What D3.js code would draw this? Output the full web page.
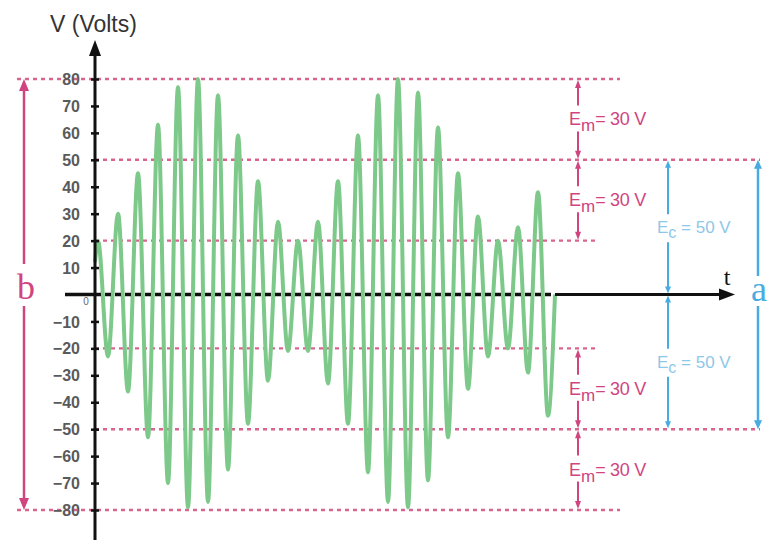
<!DOCTYPE html>
<html><head><meta charset="utf-8">
<script src="https://cdn.jsdelivr.net/npm/d3@7"></script>
<style>body{margin:0;background:#fff}svg{display:block}</style>
</head><body><svg id="c" width="773" height="545"></svg>
<script>
// ---- data ----
const yTicks = [80,70,60,50,40,30,20,10,-10,-20,-30,-40,-50,-60,-70,-80];
const guideLevels = [80,50,20,-20,-50,-80];
const carrierAmp = 50;      // Ec
const modAmp = 30;          // Em
// wave: start point, successive extrema (carrier half-periods apart), end point
const waveStart = [0, 12];
const firstExtremumT = 0.3;
const extrema = [20,-23,30,-36,45,-53,63,-70,77,-79,80,-77,74,-65,59,-48,42,-32,27,-21,
                 20,-21,27,-33,42,-48,59,-66,74,-77,80,-79,75,-69,62,-53,45,-35,29,-23,
                 20,-20,25,-29,38,-45];
const waveEnd = [46, 0];

// ---- scales ----
const svg = d3.select("#c");
svg.append("rect").attr("width",773).attr("height",545).attr("fill","#fff");
const x = d3.scaleLinear().domain([0,64]).range([95,735]);
const y = d3.scaleLinear().domain([-80,80]).range([510,79]);

const PINK = "#d0457f", PINK_DASH = "#d9658f", BLUE = "#48ace0", BLUE_TXT = "#8ec8e8";

function head(g, px, py, dir, color, w, l){
  let p;
  if(dir==="up") p=[[px,py],[px-w,py+l],[px+w,py+l]];
  else if(dir==="down") p=[[px,py],[px-w,py-l],[px+w,py-l]];
  else p=[[px,py],[px-l,py-w],[px-l,py+w]];
  g.append("path").attr("d","M"+p.map(d=>d.join(",")).join("L")+"Z").attr("fill",color);
}

// ---- guide lines ----
const guides = svg.append("g");
guideLevels.forEach(v=>{
  const full = Math.abs(v)===80;
  const mid = Math.abs(v)===50;
  const x1 = full ? 17 : 95;
  const x2 = full ? 620 : (mid ? 760 : 598);
  guides.append("line").attr("x1",x1).attr("x2",x2).attr("y1",y(v)).attr("y2",y(v))
    .attr("stroke",PINK_DASH).attr("stroke-width",2.4).attr("stroke-dasharray","4,4");
});

// ---- wave ----
const pts = [waveStart].concat(extrema.map((v,i)=>[firstExtremumT+i, v])).concat([waveEnd]);
svg.append("path").datum(pts)
  .attr("d", d3.line().x(d=>x(d[0])).y(d=>y(d[1])).curve(d3.curveMonotoneX))
  .attr("fill","none").attr("stroke","#7cc98a").attr("stroke-width",4).attr("stroke-linejoin","round");

// ---- axes ----
const ax = svg.append("g");
const y0 = y(0);
ax.append("line").attr("x1",65).attr("x2",x(0)).attr("y1",y0).attr("y2",y0).attr("stroke","#111").attr("stroke-width",3.5);
ax.append("line").attr("x1",x(0)).attr("x2",x(waveEnd[0])).attr("y1",y0).attr("y2",y0)
  .attr("stroke","#111").attr("stroke-width",3.5).attr("stroke-dasharray","6,4");
ax.append("line").attr("x1",x(waveEnd[0])).attr("x2",722).attr("y1",y0).attr("y2",y0).attr("stroke","#111").attr("stroke-width",3);
head(ax, x(64), y0, "right", "#111", 6, 16);
ax.append("line").attr("x1",x(0)).attr("x2",x(0)).attr("y1",54).attr("y2",540).attr("stroke","#111").attr("stroke-width",3);
head(ax, x(0), 40, "up", "#111", 6, 16);

const yAxis = d3.axisLeft(y).tickValues(yTicks).tickSize(0).tickPadding(15);
const yg = svg.append("g").attr("transform",`translate(${x(0)},0)`).call(yAxis);
yg.select(".domain").remove();
yg.selectAll(".tick line").remove();
yg.selectAll(".tick").append("line").attr("x1",-4).attr("x2",4).attr("stroke","#111").attr("stroke-width",2.5);
yg.selectAll(".tick text").attr("font-family","Liberation Sans, Arial, sans-serif")
  .attr("font-size",16).attr("font-weight","bold").attr("fill","#5a5a5a").attr("dy","0.35em");

svg.append("text").attr("x",86).attr("y",305).attr("text-anchor","middle")
  .attr("font-family","Liberation Sans, Arial, sans-serif").attr("font-size",10).attr("fill","#666").text("0");

svg.append("text").attr("x",50).attr("y",32).attr("font-family","Liberation Sans, Arial, sans-serif")
  .attr("font-size",23).attr("fill","#333").text("V (Volts)");

svg.append("text").attr("x",727).attr("y",285).attr("text-anchor","middle")
  .attr("font-family","Liberation Serif, serif").attr("font-size",24).attr("fill","#111").text("t");

// ---- b arrow ----
const an = svg.append("g");
const bx = 24;
an.append("line").attr("x1",bx).attr("x2",bx).attr("y1",y(80)+8).attr("y2",264).attr("stroke",PINK).attr("stroke-width",2.5);
an.append("line").attr("x1",bx).attr("x2",bx).attr("y1",306).attr("y2",y(-80)-8).attr("stroke",PINK).attr("stroke-width",2.5);
head(an,bx,y(80),"up",PINK,5,12);
head(an,bx,y(-80),"down",PINK,5,12);
an.append("text").attr("x",bx+2).attr("y",299).attr("text-anchor","middle")
  .attr("font-family","Liberation Serif, serif").attr("font-size",36).attr("fill",PINK).text("b");

// ---- Em arrows ----
const emX = 578;
[[80,50],[50,20],[-20,-50],[-50,-80]].forEach(([a,b])=>{
  const ya=y(a), yb=y(b), m=(ya+yb)/2;
  an.append("line").attr("x1",emX).attr("x2",emX).attr("y1",ya+5).attr("y2",m-14).attr("stroke",PINK).attr("stroke-width",2);
  an.append("line").attr("x1",emX).attr("x2",emX).attr("y1",m+12).attr("y2",yb-5).attr("stroke",PINK).attr("stroke-width",2);
  head(an,emX,ya+1,"up",PINK,3,8);
  head(an,emX,yb-1,"down",PINK,3,8);
  const t = an.append("text").attr("x",569).attr("y",m+6)
    .attr("font-family","Liberation Sans, Arial, sans-serif").attr("font-size",18).attr("fill",PINK);
  t.append("tspan").text("E");
  t.append("tspan").attr("font-size",17).attr("dy",6).text("m");
  t.append("tspan").attr("dy",-6).attr("font-size",18).attr("letter-spacing",-0.3).text("= " + modAmp + " V");
});

// ---- Ec arrows ----
const ecX = 668;
[[carrierAmp,0],[0,-carrierAmp]].forEach(([a,b])=>{
  const ya=y(a), yb=y(b), m=(ya+yb)/2;
  an.append("line").attr("x1",ecX).attr("x2",ecX).attr("y1",ya+5).attr("y2",m-13).attr("stroke",BLUE).attr("stroke-width",2);
  an.append("line").attr("x1",ecX).attr("x2",ecX).attr("y1",m+15).attr("y2",yb-5).attr("stroke",BLUE).attr("stroke-width",2);
  head(an,ecX,ya+1,"up",BLUE,3,7);
  head(an,ecX,yb-1,"down",BLUE,3,7);
  const t = an.append("text").attr("x",657).attr("y",m+6)
    .attr("font-family","Liberation Sans, Arial, sans-serif").attr("font-size",17).attr("fill",BLUE_TXT);
  t.append("tspan").text("E");
  t.append("tspan").attr("font-size",16).attr("dy",5).text("c");
  t.append("tspan").attr("dy",-5).text(" = " + carrierAmp + " V");
});

// ---- a arrow ----
const axX = 758;
an.append("line").attr("x1",axX).attr("x2",axX).attr("y1",y(50)+6).attr("y2",276).attr("stroke",BLUE).attr("stroke-width",2.5);
an.append("line").attr("x1",axX).attr("x2",axX).attr("y1",306).attr("y2",y(-50)-6).attr("stroke",BLUE).attr("stroke-width",2.5);
head(an,axX,y(50),"up",BLUE,4,9);
head(an,axX,y(-50),"down",BLUE,4,9);
an.append("text").attr("x",axX+1).attr("y",301).attr("text-anchor","middle")
  .attr("font-family","Liberation Serif, serif").attr("font-size",36).attr("fill",BLUE).text("a");
</script></body></html>
